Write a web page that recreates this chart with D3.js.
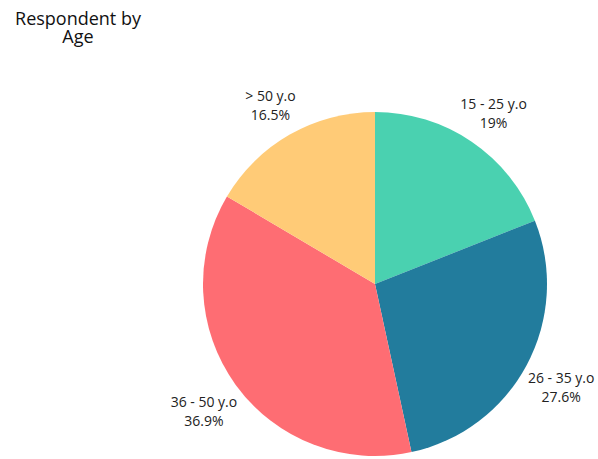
<!DOCTYPE html>
<html>
<head>
<meta charset="utf-8">
<script src="https://cdn.jsdelivr.net/npm/d3@7"></script>
<style>
  html, body { margin: 0; padding: 0; background: #fff; }
  svg { display: block; font-family: "Open Sans", sans-serif; }
</style>
</head>
<body>
<svg id="chart" width="598" height="459"></svg>
<script>
// Respondents by age group (percent)
const categories = ["15 - 25 y.o", "26 - 35 y.o", "36 - 50 y.o", "> 50 y.o"];
const values = [19, 27.6, 36.9, 16.5];
const valueLabels = ["19%", "27.6%", "36.9%", "16.5%"];
const colors = ["#4ad1b0", "#227c9d", "#fe6d73", "#ffcb77"];
const titleLines = ["Respondent by", "Age"];

const svg = d3.select("#chart");
const cx = 375, cy = 284, radius = 172, labelRadius = 211;

// Title, one text element per line, tight leading
svg.selectAll("text.title")
  .data(titleLines)
  .join("text")
  .attr("class", "title")
  .attr("text-anchor", "middle")
  .attr("font-size", 18).attr("fill", "#111")
  .attr("x", 78)
  .attr("y", (d, i) => 25 + i * 18)
  .text(d => d);

const data = categories.map((c, i) => ({ cat: c, value: values[i], label: valueLabels[i], color: colors[i] }));

const pie = d3.pie().value(d => d.value).sort(null);
const arc = d3.arc().innerRadius(0).outerRadius(radius);
const labelArc = d3.arc().innerRadius(labelRadius).outerRadius(labelRadius);

const g = svg.append("g").attr("transform", `translate(${cx},${cy})`);
const arcs = pie(data);

g.selectAll("path.slice")
  .data(arcs)
  .join("path")
  .attr("class", "slice")
  .attr("d", arc)
  .attr("fill", d => d.data.color);

const labels = g.selectAll("text.lbl")
  .data(arcs)
  .join("text")
  .attr("class", "lbl")
  .attr("text-anchor", "middle")
  .attr("font-size", 14)
  .attr("fill", "#222")
  .attr("transform", d => `translate(${labelArc.centroid(d)})`);

labels.append("tspan").attr("x", 0).attr("y", 0).text(d => d.data.cat);
labels.append("tspan").attr("x", 0).attr("y", 19).text(d => d.data.label);
</script>
</body>
</html>
